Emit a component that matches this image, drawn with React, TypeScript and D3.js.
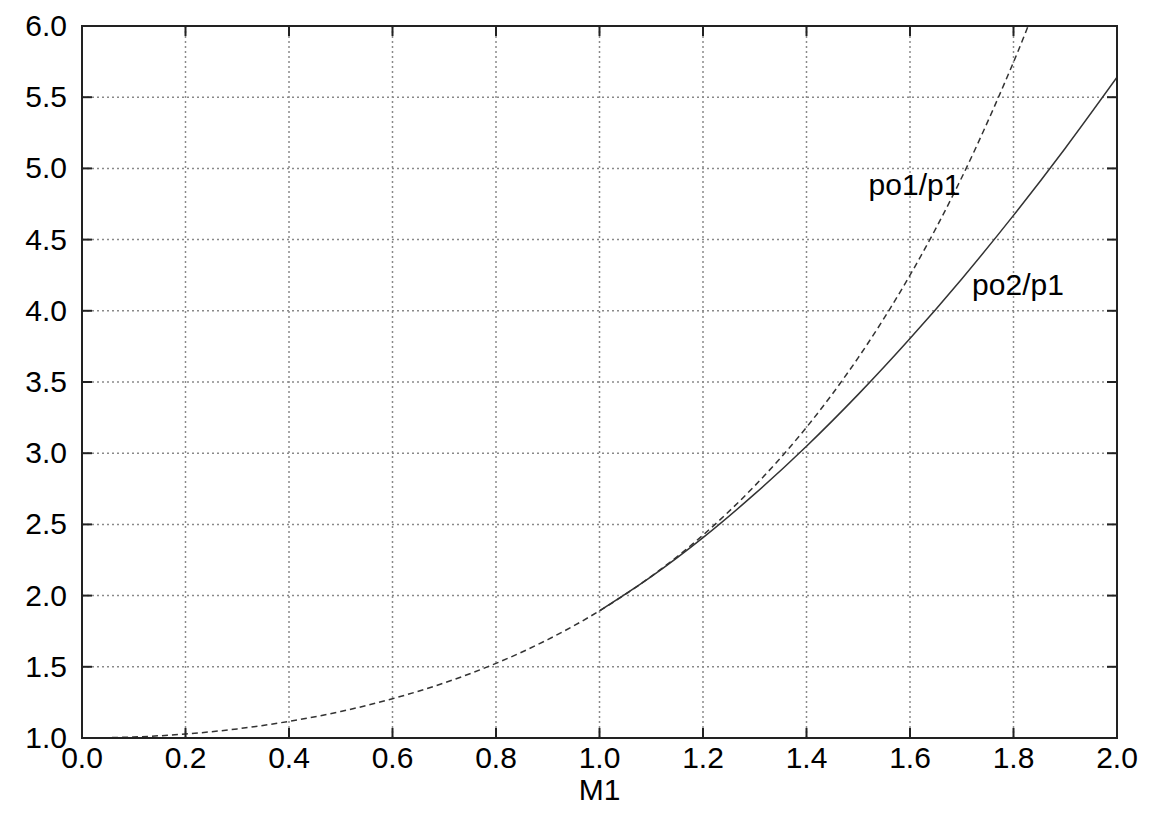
import * as d3 from "d3";

// Mach numbers and pressure ratios
const machSubsonic = [0, 0.1, 0.2, 0.3, 0.4, 0.5, 0.6, 0.7, 0.8, 0.9, 1.0, 1.1, 1.2, 1.3, 1.4, 1.5, 1.6, 1.7, 1.8, 1.85];
const po1p1 = [1.0, 1.007, 1.028, 1.064, 1.117, 1.186, 1.276, 1.387, 1.524, 1.691, 1.893, 2.135, 2.425, 2.771, 3.182, 3.671, 4.25, 4.936, 5.746, 6.204];

const machShock = [1.0, 1.1, 1.2, 1.3, 1.4, 1.5, 1.6, 1.7, 1.8, 1.9, 2.0];
const po2p1 = [1.893, 2.133, 2.407, 2.714, 3.049, 3.413, 3.805, 4.224, 4.67, 5.142, 5.64];

const xTicks = [0, 0.2, 0.4, 0.6, 0.8, 1.0, 1.2, 1.4, 1.6, 1.8, 2.0];
const yTicks = [1.0, 1.5, 2.0, 2.5, 3.0, 3.5, 4.0, 4.5, 5.0, 5.5, 6.0];

const W = 1166;
const H = 815;
const m = { left: 82, right: 49, top: 26, bottom: 77 };
const FONT = "'Liberation Sans', Arial, sans-serif";

export default function App() {
  const x = d3.scaleLinear().domain([0, 2]).range([m.left, W - m.right]);
  const y = d3.scaleLinear().domain([1, 6]).range([H - m.bottom, m.top]);

  const line = d3
    .line<[number, number]>()
    .x((d) => x(d[0]))
    .y((d) => y(d[1]))
    .curve(d3.curveCatmullRom);

  const dashed = line(machSubsonic.map((mm, i) => [mm, po1p1[i]] as [number, number])) || "";
  const solid = line(machShock.map((mm, i) => [mm, po2p1[i]] as [number, number])) || "";

  const x0 = x(0), x1 = x(2), y0 = y(1), y1 = y(6);
  const tick = 10;

  return (
    <svg width={W} height={H} style={{ position: "absolute", left: 0, top: 0, background: "#fff" }}>
      <defs>
        <clipPath id="plot">
          <rect x={x0} y={y1} width={x1 - x0} height={y0 - y1} />
        </clipPath>
      </defs>

      {/* grid */}
      {xTicks.slice(1, -1).map((t) => (
        <line key={"gx" + t} x1={x(t)} x2={x(t)} y1={y1} y2={y0} stroke="#8a8a8a" strokeWidth={1.5} strokeDasharray="2,3" />
      ))}
      {yTicks.slice(1, -1).map((t) => (
        <line key={"gy" + t} x1={x0} x2={x1} y1={y(t)} y2={y(t)} stroke="#8a8a8a" strokeWidth={1.5} strokeDasharray="2,3" />
      ))}

      {/* curves */}
      <g clipPath="url(#plot)" fill="none" stroke="#333">
        <path d={dashed} strokeWidth={1.5} strokeDasharray="6,4" />
        <path d={solid} strokeWidth={1.5} />
      </g>

      {/* ticks */}
      {xTicks.map((t) => (
        <g key={"tx" + t} stroke="#222" strokeWidth={2}>
          <line x1={x(t)} x2={x(t)} y1={y0} y2={y0 - tick} />
          <line x1={x(t)} x2={x(t)} y1={y1} y2={y1 + tick} />
        </g>
      ))}
      {yTicks.map((t) => (
        <g key={"ty" + t} stroke="#222" strokeWidth={2}>
          <line x1={x0} x2={x0 + tick} y1={y(t)} y2={y(t)} />
          <line x1={x1} x2={x1 - tick} y1={y(t)} y2={y(t)} />
        </g>
      ))}

      <rect x={x0} y={y1} width={x1 - x0} height={y0 - y1} fill="none" stroke="#222" strokeWidth={2} />

      {/* tick labels */}
      <g fontFamily={FONT} fontSize={30} fill="#000">
        {xTicks.map((t) => (
          <text key={"lx" + t} x={x(t)} y={y0 + 30} textAnchor="middle">
            {t.toFixed(1)}
          </text>
        ))}
        {yTicks.map((t) => (
          <text key={"ly" + t} x={x0 - 15} y={y(t) + 10} textAnchor="end">
            {t.toFixed(1)}
          </text>
        ))}
        <text x={(x0 + x1) / 2} y={y0 + 62} textAnchor="middle">M1</text>
        <text x={x(1.52)} y={y(4.81)}>po1/p1</text>
        <text x={x(1.72)} y={y(4.11)}>po2/p1</text>
      </g>
    </svg>
  );
}
